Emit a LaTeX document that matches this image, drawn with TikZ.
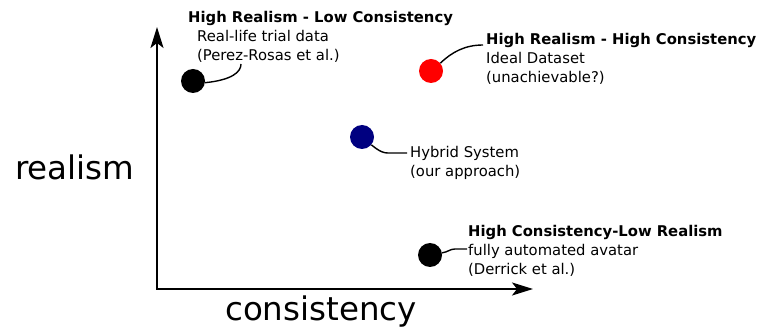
\documentclass[tikz,border=0pt]{standalone}
\usepackage{fontspec}
\setmainfont{DejaVu Sans}
\usetikzlibrary{arrows.meta}
\definecolor{dotred}{RGB}{255,0,0}
\definecolor{dotnavy}{RGB}{0,0,128}
\begin{document}
\begin{tikzpicture}[x=1pt,y=-1pt,
  axis/.style={line width=2pt,-{Stealth[length=21pt,width=13pt,inset=5pt]}},
  dot/.style={circle,inner sep=0pt,minimum size=24pt},
  lead/.style={line width=1.4pt},
  ttl/.style={anchor=base west,inner sep=0pt,font=\fontsize{14.8}{18}\selectfont\bfseries},
  txt/.style={anchor=base west,inner sep=0pt,font=\fontsize{14.8}{18}\selectfont},
  big/.style={anchor=base west,inner sep=0pt,font=\fontsize{32.5}{38}\selectfont}]
\useasboundingbox[fill=white] (0,0) rectangle (762,328);
\coordinate (o) at (157,289);
\coordinate (xt) at (533,289);
\coordinate (yt) at (157,27);
\draw[axis] (o) -- (xt);
\draw[axis] ([yshift=-1pt]o) -- (yt);
\node[big] (rl) at (15,180) {realism};
\node[big] (cs) at (225,320) {consistency};
% dots
\node[dot,fill=black] (d1) at (193,81) {};
\node[dot,fill=dotred] (d2) at (431,71) {};
\node[dot,fill=dotnavy] (d3) at (362,137) {};
\node[dot,fill=black] (d4) at (430,255) {};
% texts group 1
\node[ttl] (t1) at (188,23) {High Realism - Low Consistency};
\node[txt] (a1) at (197,42) {Real-life trial data};
\node[txt] (b1) at (197,61) {(Perez-Rosas et al.)};
% group 2
\node[ttl] (t2) at (486,45) {High Realism - High Consistency};
\node[txt] (a2) at (486,64) {Ideal Dataset};
\node[txt] (b2) at (486,83) {(unachievable?)};
% group 3
\node[txt] (a3) at (410,158) {Hybrid System};
\node[txt] (b3) at (410,177) {(our approach)};
% group 4
\node[ttl] (t4) at (468,237) {High Consistency-Low Realism};
\node[txt] (a4) at (468,256) {fully automated avatar};
\node[txt] (b4) at (468,275) {(Derrick et al.)};
% leaders
\coordinate (e1) at (241,64);
\coordinate (e2) at (483,45);
\coordinate (e3) at (407,153);
\coordinate (e4) at (467,249);
\draw[lead] (d1.-8) .. controls (232,80) and (241,72) .. (e1);
\draw[lead] (d2.40) .. controls (452,52) and (465,45) .. (e2);
\draw[lead] (d3.-40) .. controls (380,152) and (384,153) .. (388,153) -- (e3);
\draw[lead] (d4.10) .. controls (448,252) and (450,249) .. (455,249) -- (e4);
\end{tikzpicture}
\end{document}
